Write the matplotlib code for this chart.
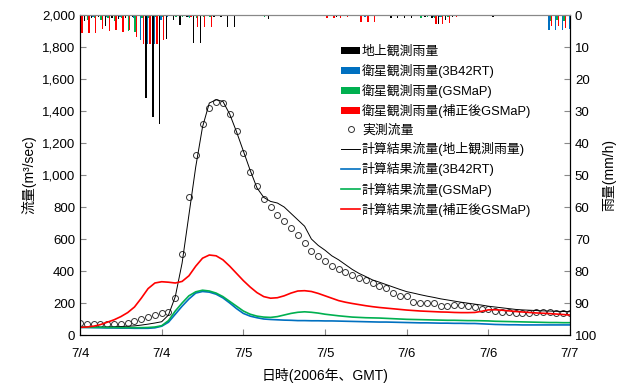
"""
Flow hydrograph with hourly rainfall bars (ground vs. satellite), July 2006
"""

import matplotlib
matplotlib.use("Agg")
import matplotlib.pyplot as plt
import numpy as np

plt.rcParams['font.family'] = ['Liberation Sans', 'Noto Sans CJK JP', 'DejaVu Sans']

# hours since 2006-07-04 00:00 GMT
hours = np.arange(73)
tick_hours = [0, 12, 24, 36, 48, 60, 72]
tick_labels = ["7/4", "7/4", "7/5", "7/5", "7/6", "7/6", "7/7"]

# hourly rainfall (mm/h)
rain_ground = [0.5, 2, 0.8, 0.5, 3.3, 0.8, 1.3, 1, 0.5, 0.3,
               26, 32, 34, 7.5, 1.6, 3, 0.5, 8.7, 8.8, 0.3,
               0.5, 0.5, 3.7, 3.7, 0.3, 0.3, 0.3, 0.3, 1.2, 0.3,
               0.3, 0.3, 0.3, 0.3, 0.3, 0.3, 0, 0, 0.5, 0,
               0, 0.3, 0, 0, 0, 0, 0.8, 1, 0.8, 0.8,
               0, 0.5, 1, 2.8, 1.5, 0.5, 0.3, 0, 0, 0,
               0, 0.5, 0, 0, 0, 0, 0, 0, 0, 0,
               0, 0, 0]
rain_3b42rt = [0.3, 0.3, 0.5, 0.3, 0.5, 0.3, 0.5, 0.3, 1, 7.8,
               9, 9, 1.5, 0.5, 0.3, 0, 0.5, 0.3, 0.3, 0,
               0, 0, 0, 0, 0, 0, 0, 0, 0, 0,
               0, 0, 0, 0, 0, 0, 0, 0, 0, 0,
               0.3, 0, 0.5, 0, 0, 0, 0, 0, 0, 0,
               0, 0, 0.5, 0.5, 0.3, 0, 0, 0, 0, 0,
               0, 0, 0, 0, 0, 0, 0, 0, 0, 4.7,
               4.7, 4.7, 4.5]
rain_gsmap = [1.5, 1.5, 1, 1.5, 1, 2, 1, 5, 5.3, 1,
              1, 0.5, 0.5, 0.3, 0.5, 0.5, 1, 1, 0.5, 0.5,
              0.3, 0.3, 0, 0, 0, 0, 0, 0.5, 0, 0,
              0, 0, 0, 0, 0, 0, 0, 0, 0, 0,
              0, 0, 0, 0, 0, 0, 0, 0, 0, 0,
              1, 0.5, 1, 0.5, 0.5, 0, 0, 0, 0, 0,
              0, 0, 0, 0, 0, 0, 0, 0, 0, 2,
              1.6, 2, 1.6]
rain_gsmap_adj = [5.6, 5.6, 5.6, 4.4, 4.9, 4.7, 5.2, 4.8, 6.8, 9,
                  9, 9, 7.8, 0.3, 0.3, 0.3, 0.5, 3.6, 3.6, 3.6,
                  0.3, 0.3, 0, 0, 0, 0, 0, 0, 0, 0,
                  0, 0, 0, 0, 0, 0, 1, 1, 1, 0.5,
                  0, 2.1, 2.1, 2.1, 0.3, 0.3, 0, 0, 0, 0,
                  0, 0.3, 2.8, 2.8, 2.5, 0.5, 0.3, 0, 0, 0,
                  0, 0, 0, 0, 0, 0, 0, 0, 0, 3.5,
                  3.5, 4, 3.5]

# flow (m3/sec)
flow_obs = [73, 69, 67, 69, 67, 71, 71, 75, 90, 100,
            110, 123, 135, 146, 229, 506, 862, 1125, 1318, 1419,
            1456, 1450, 1381, 1275, 1140, 1020, 930, 850, 800, 750,
            710, 670, 625, 573, 527, 494, 464, 431, 410, 396,
            375, 356, 344, 325, 306, 294, 265, 244, 244, 208,
            202, 202, 202, 181, 183, 187, 187, 181, 173, 165,
            160, 148, 146, 142, 140, 140, 140, 146, 146, 146,
            140, 140, 140]
flow_ground = [50, 50, 50, 50, 51, 52, 53, 55, 57, 62,
               68, 75, 83, 125, 240, 450, 750, 1050, 1300, 1450,
               1470, 1460, 1380, 1270, 1150, 1030, 920, 860, 835, 825,
               800, 760, 720, 680, 600, 560, 530, 495, 470, 440,
               410, 385, 365, 344, 330, 315, 300, 285, 271, 262,
               252, 243, 235, 226, 219, 212, 205, 199, 193, 187,
               180, 175, 170, 165, 160, 157, 155, 153, 151, 150,
               148, 147, 146]
flow_3b42rt = [48, 47, 46, 45, 44, 44, 43, 43, 42, 42,
               42, 45, 55, 80, 130, 180, 225, 262, 272, 268,
               255, 232, 200, 165, 135, 118, 108, 100, 97, 95,
               93, 92, 90, 90, 89, 89, 88, 88, 87, 86,
               85, 84, 83, 82, 81, 81, 80, 79, 78, 77,
               76, 76, 75, 74, 74, 73, 73, 72, 72, 70,
               68, 66, 65, 64, 64, 63, 63, 63, 63, 63,
               63, 63, 63]
flow_gsmap = [48, 48, 48, 48, 47, 47, 46, 46, 46, 46,
              47, 50, 58, 90, 150, 200, 245, 270, 280, 275,
              262, 240, 210, 180, 150, 130, 118, 112, 110, 115,
              125, 135, 142, 145, 142, 137, 130, 125, 120, 116,
              112, 110, 108, 107, 106, 104, 102, 100, 98, 97,
              96, 95, 94, 93, 92, 92, 91, 90, 90, 89,
              88, 86, 85, 84, 83, 82, 81, 80, 79, 78,
              78, 77, 77]
flow_gsmap_adj = [48, 50, 55, 65, 80, 95, 115, 140, 175, 230,
                  290, 325, 333, 330, 325, 335, 370, 430, 480, 500,
                  495, 470, 430, 385, 340, 300, 265, 240, 230, 233,
                  245, 262, 275, 277, 272, 260, 245, 230, 215, 205,
                  197, 190, 183, 177, 172, 168, 164, 160, 156, 153,
                  150, 148, 146, 144, 143, 141, 140, 140, 141, 148,
                  157, 158, 155, 151, 147, 144, 141, 138, 136, 134,
                  131, 128, 125]

C_BLACK = "#000000"
C_BLUE = "#0070C0"
C_GREEN = "#00B050"
C_RED = "#FF0000"


def main():
    fig = plt.figure(figsize=(6.17, 3.86), dpi=100)
    ax = fig.add_axes([0.1297, 0.1321, 0.7941, 0.829])
    ax2 = ax.twinx()

    # rainfall bars, hanging from the top
    w = 0.2
    b1 = ax2.bar(hours - 1.5 * w, rain_ground, width=w, color=C_BLACK, label="地上観測雨量")
    b2 = ax2.bar(hours - 0.5 * w, rain_3b42rt, width=w, color=C_BLUE, label="衛星観測雨量(3B42RT)")
    b3 = ax2.bar(hours + 0.5 * w, rain_gsmap, width=w, color=C_GREEN, label="衛星観測雨量(GSMaP)")
    b4 = ax2.bar(hours + 1.5 * w, rain_gsmap_adj, width=w, color=C_RED, label="衛星観測雨量(補正後GSMaP)")
    ax2.set_ylim(100, 0)
    ax2.set_yticks(np.arange(0, 101, 10))
    ax2.set_ylabel("雨量(mm/h)", fontsize=10, labelpad=4)

    # flow
    obs, = ax.plot(hours, flow_obs, linestyle="none", marker="o", ms=4.3, mfc="none",
                   mec="#333333", mew=0.7, label="実測流量")
    l1, = ax.plot(hours, flow_ground, color=C_BLACK, lw=0.7, label="計算結果流量(地上観測雨量)")
    l2, = ax.plot(hours, flow_3b42rt, color=C_BLUE, lw=1.2, label="計算結果流量(3B42RT)")
    l3, = ax.plot(hours, flow_gsmap, color=C_GREEN, lw=1.2, label="計算結果流量(GSMaP)")
    l4, = ax.plot(hours, flow_gsmap_adj, color=C_RED, lw=1.2, label="計算結果流量(補正後GSMaP)")

    ax.set_xlim(0, 72)
    ax.set_ylim(0, 2000)
    ax.set_yticks(np.arange(0, 2001, 200))
    ax.set_yticklabels([f"{v:,}" for v in range(0, 2001, 200)])
    ax.set_xticks(tick_hours)
    ax.set_xticklabels(tick_labels)
    ax.set_xlabel("日時(2006年、GMT)", fontsize=10, labelpad=6)
    ax.set_ylabel("流量(m³/sec)", fontsize=10, labelpad=4)

    for a in (ax, ax2):
        a.tick_params(direction="in", length=4, width=0.8, color="#888888", labelsize=9.5)
        a.spines["top"].set_color("#888888")
    ax.tick_params(axis="x", pad=9)

    handles = [b1, b2, b3, b4, obs, l1, l2, l3, l4]
    ax.legend(handles, [h.get_label() for h in handles],
              loc="upper left", bbox_to_anchor=(0.52, 0.925), frameon=False,
              fontsize=9.3, handlelength=1.45, handleheight=0.5, handletextpad=0.15,
              labelspacing=0.47, borderpad=0)

    fig.savefig("out.png", dpi=100)
    plt.close(fig)


if __name__ == "__main__":
    main()
